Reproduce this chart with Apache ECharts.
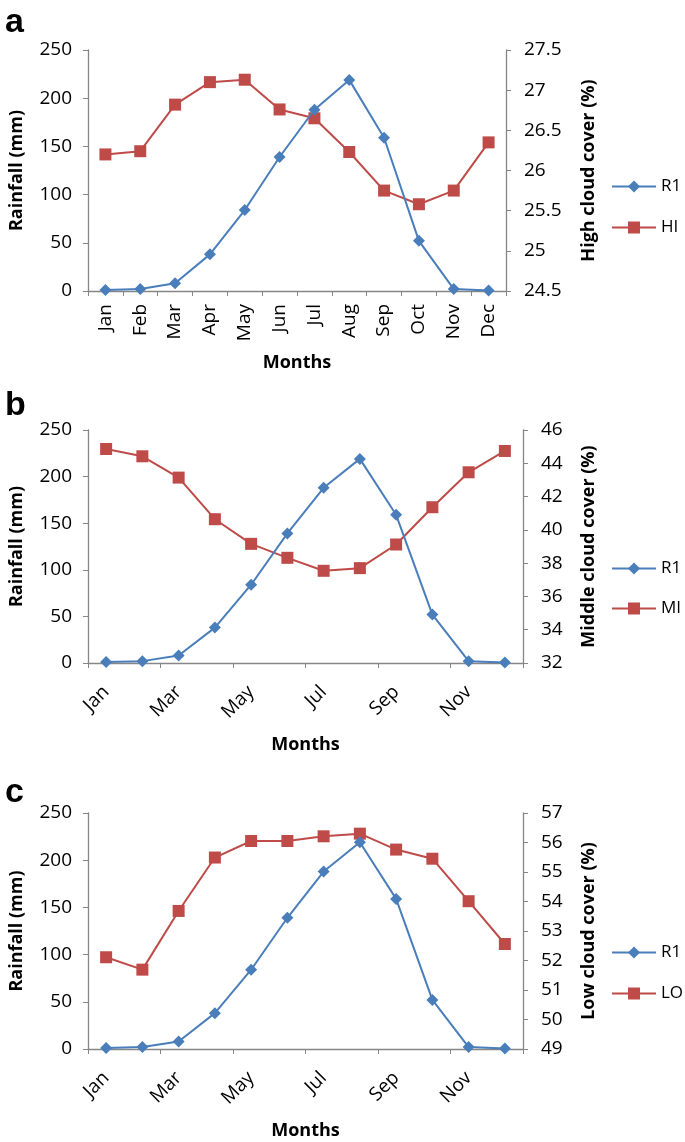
<!DOCTYPE html>
<html>
<head>
<meta charset="utf-8">
<script src="https://cdn.jsdelivr.net/npm/echarts@6/dist/echarts.min.js"></script>
<style>
html,body{margin:0;padding:0;background:#fff;}
#chart{width:685px;height:1142px;}
</style>
</head>
<body>
<div id="chart"></div>
<script>
var months = ['Jan','Feb','Mar','Apr','May','Jun','Jul','Aug','Sep','Oct','Nov','Dec'];
var rainfallR1 = [1, 2, 8, 38, 84, 139, 188, 219, 159, 52, 2, 0.5];
var highCloudHI = [26.2, 26.24, 26.82, 27.1, 27.13, 26.76, 26.65, 26.23, 25.75, 25.58, 25.75, 26.35];
var middleCloudMI = [44.86, 44.42, 43.14, 40.64, 39.16, 38.32, 37.54, 37.7, 39.12, 41.36, 43.46, 44.74];
var lowCloudLO = [52.11, 51.69, 53.68, 55.49, 56.05, 56.05, 56.21, 56.3, 55.76, 55.45, 54.01, 52.56];

var panels = [
  {letter:'a', name:'HI', data:highCloudHI, rTitle:'High cloud cover (%)', rMin:24.5, rMax:27.5, rInt:0.5,
   top:50, height:241, left:84, right:179, rot:90, every:0, lblMargin:13, monthsGap:63, rGap:74,
   legendTop:178, legendGap:24, letterTop:6},
  {letter:'b', name:'MI', data:middleCloudMI, rTitle:'Middle cloud cover (%)', rMin:32, rMax:46, rInt:2,
   top:430, height:233, left:83, right:162, rot:45, every:1, lblMargin:26, monthsGap:73, rGap:57,
   legendTop:560, legendGap:23, letterTop:389},
  {letter:'c', name:'LO', data:lowCloudLO, rTitle:'Low cloud cover (%)', rMin:49, rMax:57, rInt:1,
   top:813, height:236, left:83, right:162, rot:45, every:1, lblMargin:26, monthsGap:73, rGap:57,
   legendTop:944, legendGap:24, letterTop:776}
];

var FONT = 'Open Sans';
var axisColor = '#868686';
var blue = '#4A7EBB', red = '#BE4B48';

var grids=[], xAxes=[], yAxes=[], series=[], legends=[], graphics=[];
panels.forEach(function(p, i){
  grids.push({left:p.left, right:p.right, top:p.top, height:p.height, containLabel:false});
  xAxes.push({
    type:'category', gridIndex:i, data:months, boundaryGap:true,
    name:'Months', nameLocation:'middle', nameGap:p.monthsGap,
    nameTextStyle:{fontFamily:FONT, fontSize:18, fontWeight:'bold', color:'#000'},
    axisLine:{lineStyle:{color:axisColor, width:1.3}},
    axisTick:{show:true, alignWithLabel:false, length:5, lineStyle:{color:axisColor}},
    axisLabel:{rotate:p.rot, interval:p.every, margin:p.lblMargin, fontFamily:FONT, fontSize:19, color:'#000'},
    splitLine:{show:false}
  });
  yAxes.push({
    type:'value', gridIndex:i, position:'left', min:0, max:250, interval:50,
    name:'Rainfall (mm)', nameLocation:'middle', nameGap:62, nameRotate:90,
    nameTextStyle:{fontFamily:FONT, fontSize:18, fontWeight:'bold', color:'#000'},
    axisLine:{show:true, lineStyle:{color:axisColor, width:1.3}},
    axisTick:{show:true, length:5, lineStyle:{color:axisColor}},
    axisLabel:{margin:16, fontFamily:FONT, fontSize:19, color:'#000'},
    splitLine:{show:false}
  });
  yAxes.push({
    type:'value', gridIndex:i, position:'right', min:p.rMin, max:p.rMax, interval:p.rInt,
    name:p.rTitle, nameLocation:'middle', nameGap:p.rGap, nameRotate:90,
    nameTextStyle:{fontFamily:FONT, fontSize:18, fontWeight:'bold', color:'#000'},
    axisLine:{show:true, lineStyle:{color:axisColor, width:1.3}},
    axisTick:{show:true, length:5, lineStyle:{color:axisColor}},
    axisLabel:{margin:18, fontFamily:FONT, fontSize:19, color:'#000'},
    splitLine:{show:false}
  });
  series.push({
    name:'R1', type:'line', xAxisIndex:i, yAxisIndex:2*i, data:rainfallR1,
    symbol:'diamond', symbolSize:12, lineStyle:{color:blue, width:2},
    itemStyle:{color:blue}, z:3
  });
  series.push({
    name:p.name, type:'line', xAxisIndex:i, yAxisIndex:2*i+1, data:p.data,
    symbol:'rect', symbolSize:12, lineStyle:{color:red, width:2},
    itemStyle:{color:red}, z:2
  });
  legends.push({
    data:['R1', p.name], orient:'vertical', left:611, top:p.legendTop, padding:0,
    itemWidth:44, itemHeight:15, itemGap:p.legendGap,
    textStyle:{fontFamily:FONT, fontSize:17, color:'#000'},
    selectedMode:false
  });
  graphics.push({
    type:'text', left:5, top:p.letterTop,
    style:{text:p.letter, font:'bold 34px "Liberation Sans"', fill:'#000'}
  });
});

var chart = echarts.init(document.getElementById('chart'), null, {renderer:'canvas'});
chart.setOption({
  animation:false,
  backgroundColor:'#fff',
  grid:grids, xAxis:xAxes, yAxis:yAxes, series:series, legend:legends, graphic:graphics
});
</script>
</body>
</html>
